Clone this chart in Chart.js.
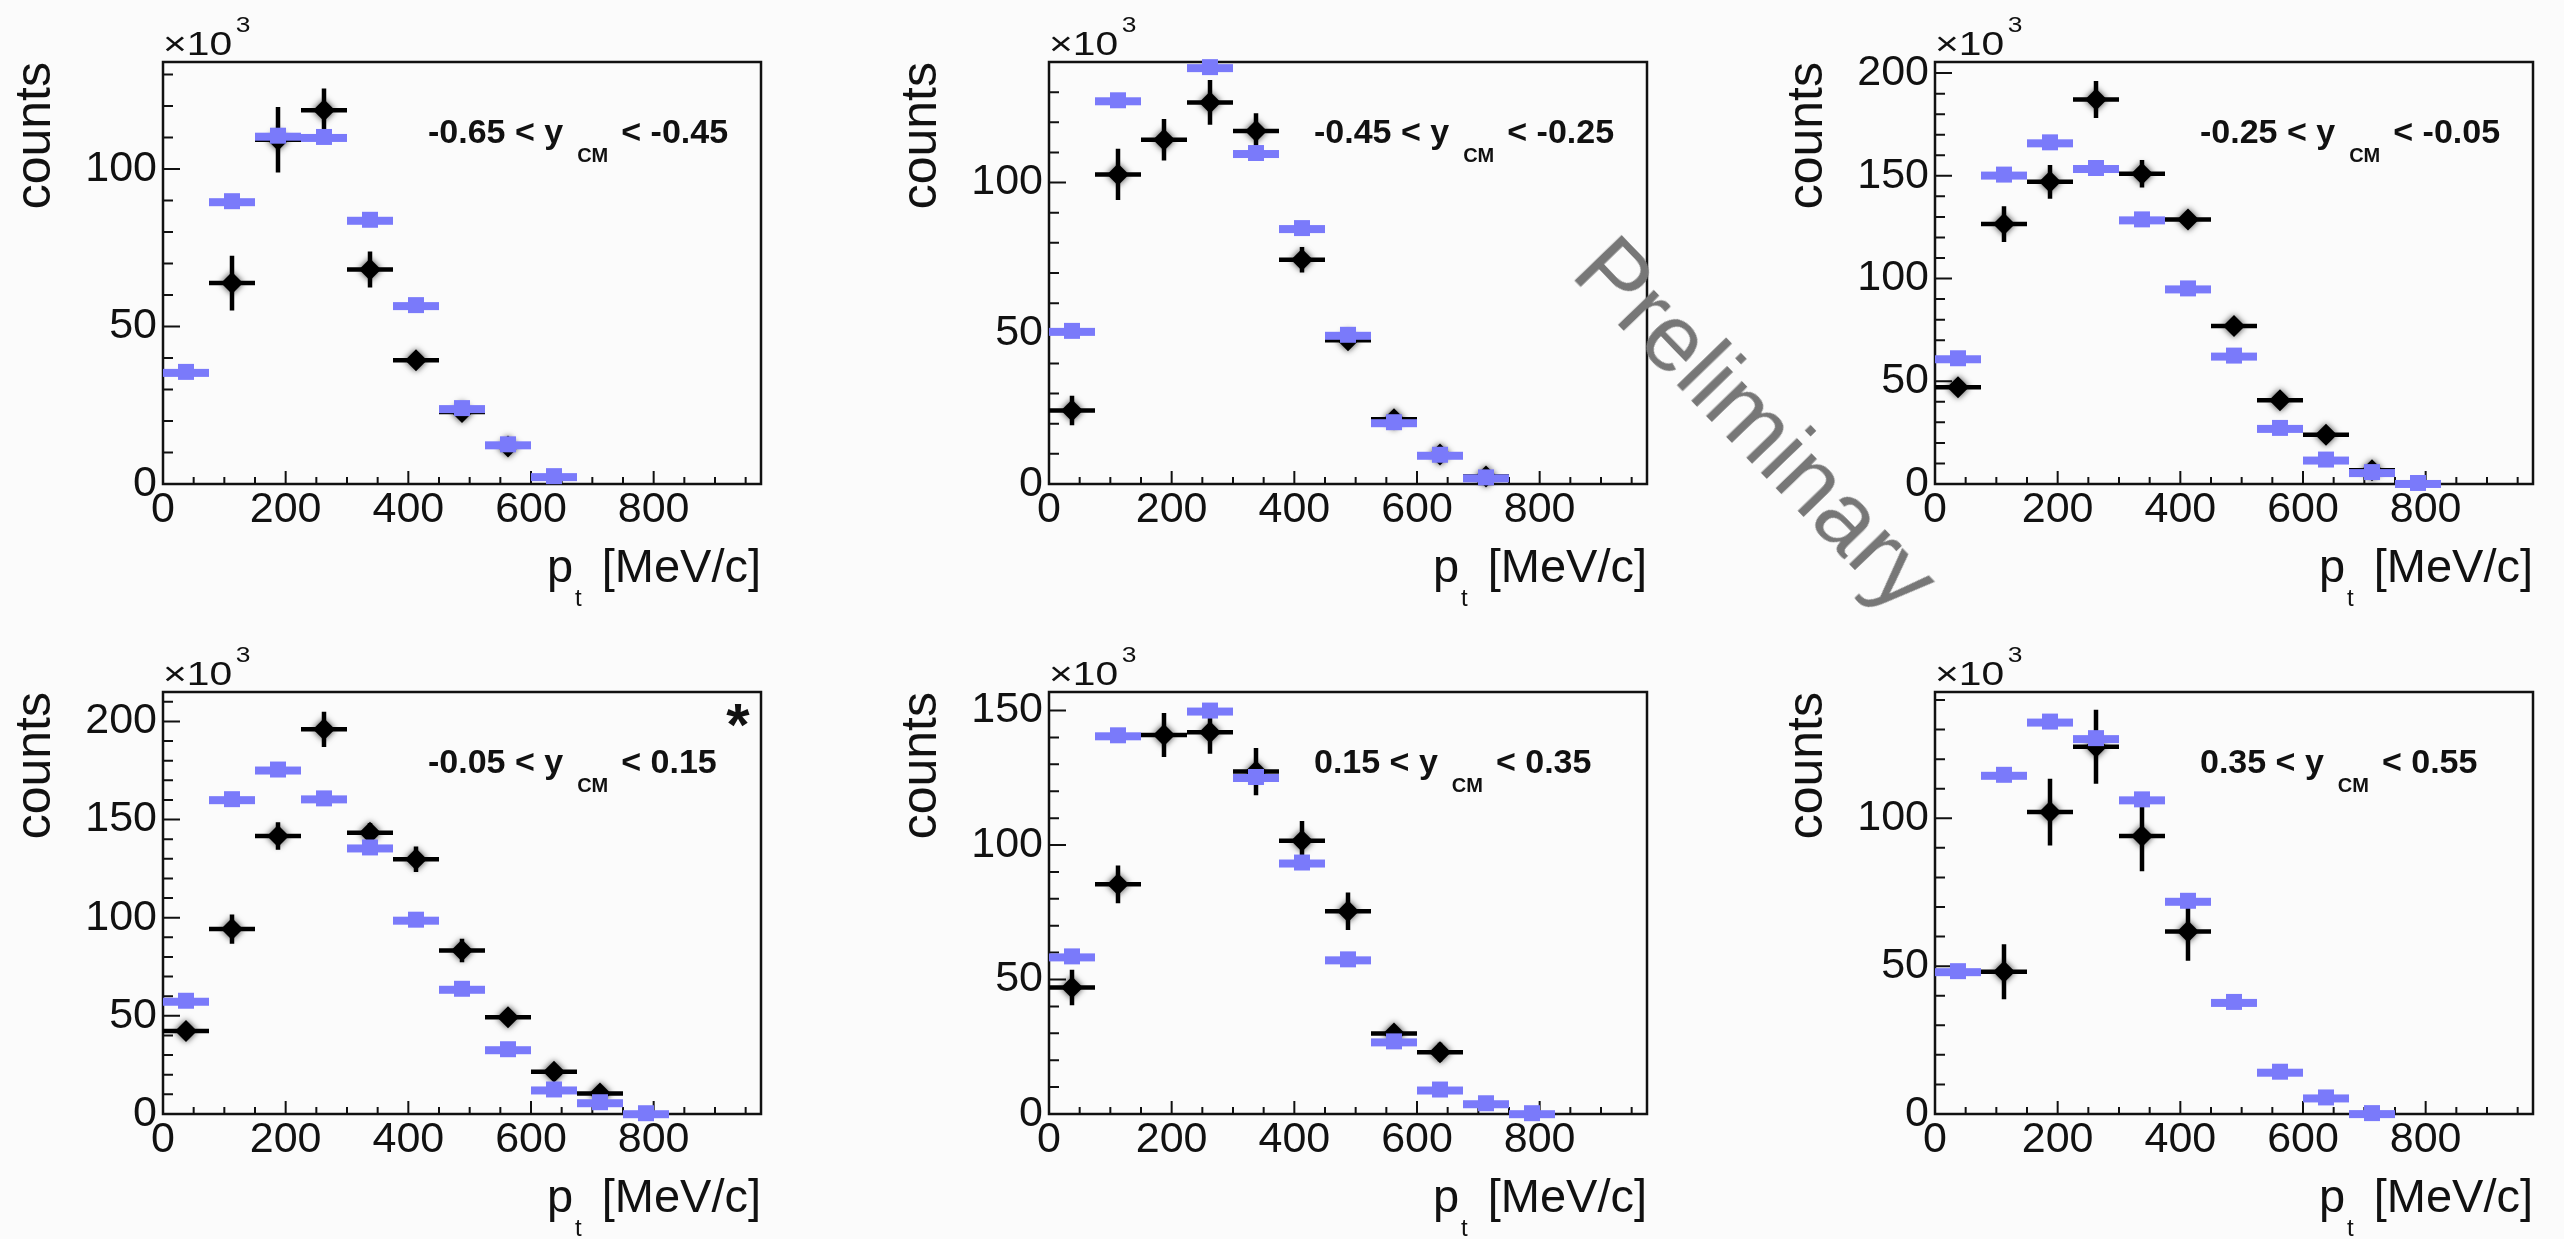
<!DOCTYPE html>
<html>
<head>
<meta charset="utf-8">
<script src="https://cdn.jsdelivr.net/npm/chart.js@4.4.1/dist/chart.umd.min.js"></script>
<style>
  html, body { margin: 0; padding: 0; background: #fbfbfb; overflow: hidden; }
  body { width: 2564px; height: 1239px; position: relative; }
  canvas { position: absolute; }
  #prelim {
    position: absolute; left: 1627px; top: 219px;
    font: 95px "Liberation Sans", Arial, sans-serif; line-height: 1;
    color: #777; white-space: nowrap;
    transform-origin: 0 0; transform: rotate(46deg);
  }
</style>
</head>
<body>
<canvas id="pad0" width="792" height="620" style="left:0px;top:0px"></canvas>
<canvas id="pad1" width="792" height="620" style="left:886px;top:0px"></canvas>
<canvas id="pad2" width="792" height="620" style="left:1772px;top:0px"></canvas>
<canvas id="pad3" width="792" height="609" style="left:0px;top:630px"></canvas>
<canvas id="pad4" width="792" height="609" style="left:886px;top:630px"></canvas>
<canvas id="pad5" width="792" height="609" style="left:1772px;top:630px"></canvas>
<div id="prelim">Preliminary</div>
<script>
// p_t bins (MeV/c), 75 MeV/c wide
const ptBinCentres = [37.5, 112.5, 187.5, 262.5, 337.5, 412.5, 487.5, 562.5, 637.5, 712.5, 787.5];
const ptBinHalfWidth = 37.5;
const ptRange = [0, 975];
const xTickLabels = [0, 200, 400, 600, 800];

// rapidity windows
const rapLow  = ["-0.65", "-0.45", "-0.25", "-0.05", "0.15", "0.35"];
const rapHigh = ["-0.45", "-0.25", "-0.05", "0.15", "0.35", "0.55"];

// y axis ranges (x10^3 counts)
const yMaxes = [134, 140, 205.4, 215, 156.9, 142.7];
const yTickLabels = [
  [0, 50, 100], [0, 50, 100], [0, 50, 100, 150, 200],
  [0, 50, 100, 150, 200], [0, 50, 100, 150], [0, 50, 100]
];

// measured counts (x10^3) and errors
const data0 = [null, 63.8, 109.3, 118.7, 68.1, 39.3, 22.9, 11.9, null, null, null];
const err0  = [0, 8.7, 10.4, 6.9, 5.7, 2, 1.5, 1, 0, 0, 0];
const data1 = [24.4, 102.7, 114.2, 126.6, 117.1, 74.4, 47.7, 21.5, 9.8, 2.5, null];
const err1  = [4.9, 8.5, 6.9, 7.4, 5.9, 4.2, 2, 1.5, 1, 0.5, 0];
const data2 = [47.1, 126.5, 147.1, 187.1, 151, 128.8, 76.9, 40.8, 24, 6.7, null];
const err2  = [3, 8.7, 8.2, 9, 6.7, 4, 3, 2, 1.5, 1, 0];
const data3 = [42.3, 94.2, 141.6, 196, 143.3, 129.8, 83.3, 49.3, 21.5, 10.5, null];
const err3  = [3, 7.5, 7, 9, 5, 6.5, 6, 3, 3, 2, 0];
const data4 = [47, 85.4, 140.9, 141.9, 127.3, 101.6, 75.4, 29.9, 23, null, null];
const err4  = [6.6, 7, 8.2, 8, 8.8, 7.3, 7, 2, 3.5, 0, 0];
const data5 = [null, 48.1, 102.1, 124.2, 94, 61.7, null, null, null, null, null];
const err5  = [0, 9.3, 11.3, 12.5, 11.9, 9.9, 0, 0, 0, 0, 0];

// model (x10^3), null where it runs off the top of the frame
const model0 = [35.6, 89.8, 110.6, 110.2, 83.9, 56.8, 24.1, 12.6, 2.5, null, null];
const model1 = [50.8, 127.3, null, 138.3, 109.8, 84.9, 49.5, 20.5, 9.7, 2.2, null];
const model2 = [61.2, 150.6, 166.3, 153.8, 128.8, 95.2, 62.5, 27.3, 11.9, 5.8, 0.5];
const model3 = [57.7, 160.4, 175.5, 160.8, 135.8, 99, 63.8, 33, 12.5, 6, 0.4];
const model4 = [58.6, 140.8, null, 150, 125.3, 93.5, 57.5, 27, 9.1, 4, 0.3];
const model5 = [48.3, 114.7, 132.7, 127.1, 106.4, 72.1, 37.9, 14.3, 5.6, 0.3, null];

const allData = [data0, data1, data2, data3, data4, data5];
const allErr = [err0, err1, err2, err3, err4, err5];
const allModel = [model0, model1, model2, model3, model4, model5];

const modelColour = "#7a7afa";
const FONT = '"Liberation Sans", Arial, Helvetica, sans-serif';
Chart.defaults.font.family = FONT;
Chart.defaults.color = "#111";

function toPoints(vals, errs) {
  const pts = [];
  vals.forEach((v, i) => {
    if (v === null) return;
    pts.push({ x: ptBinCentres[i], y: v, e: errs ? errs[i] : 0 });
  });
  return pts;
}

// ROOT-ish frame, inner ticks, bin bars, error bars and the pad texts
const rootStyle = {
  id: "rootStyle",
  beforeDatasetsDraw(chart) {
    const { ctx, chartArea: a, scales: { x, y } } = chart;
    ctx.save();
    ctx.strokeStyle = "#111";
    ctx.lineWidth = 2;
    ctx.beginPath();
    for (let v = 0; v <= ptRange[1]; v += 50) {
      const px = x.getPixelForValue(v);
      const len = v % 200 === 0 ? 13 : 7;
      ctx.moveTo(px, a.bottom);
      ctx.lineTo(px, a.bottom - len);
    }
    for (let v = 0; v <= y.max; v += 10) {
      const py = y.getPixelForValue(v);
      const len = v % 50 === 0 ? 17 : 10;
      ctx.moveTo(a.left, py);
      ctx.lineTo(a.left + len, py);
    }
    ctx.stroke();
    ctx.lineWidth = 2.5;
    ctx.strokeRect(a.left, a.top, a.right - a.left, a.bottom - a.top);
    ctx.restore();
  },
  beforeDatasetDraw(chart, args) {
    const ds = chart.data.datasets[args.index];
    const { ctx, scales: { x, y } } = chart;
    ctx.save();
    ds.data.forEach(p => {
      const x0 = x.getPixelForValue(p.x - ptBinHalfWidth);
      const x1 = x.getPixelForValue(p.x + ptBinHalfWidth);
      const px = x.getPixelForValue(p.x);
      const py = y.getPixelForValue(p.y);
      if (ds.kind === "model") {
        ctx.fillStyle = modelColour;
        ctx.fillRect(x0, py - 3, x1 - x0, 8);
      } else {
        ctx.strokeStyle = "#000";
        ctx.lineWidth = 4.5;
        ctx.beginPath();
        ctx.moveTo(x0, py);
        ctx.lineTo(x1, py);
        ctx.moveTo(px, y.getPixelForValue(p.y - p.e));
        ctx.lineTo(px, y.getPixelForValue(p.y + p.e));
        ctx.stroke();
      }
    });
    if (ds.kind === "data") {
      ctx.shadowColor = "rgba(0,0,0,0.75)";
      ctx.shadowBlur = 6;
    }
  },
  afterDatasetDraw(chart) {
    chart.ctx.restore();
  },
  afterDraw(chart, args, opts) {
    const { ctx, chartArea: a } = chart;
    const i = opts.panel;
    ctx.save();
    ctx.fillStyle = "#111";

    // x10^3
    ctx.textAlign = "left";
    ctx.textBaseline = "alphabetic";
    ctx.save();
    ctx.translate(a.left, a.top - 7);
    ctx.scale(1.2, 1);
    ctx.font = "34px " + FONT;
    ctx.fillText("\u00d710", 0, 0);
    const w10 = ctx.measureText("\u00d710").width;
    ctx.font = "22px " + FONT;
    ctx.fillText("3", w10 + 3, -23);
    ctx.restore();

    // counts
    ctx.save();
    ctx.translate(a.left - 113, a.top);
    ctx.rotate(-Math.PI / 2);
    ctx.textAlign = "right";
    ctx.font = "50px " + FONT;
    ctx.fillText("counts", 0, 0);
    ctx.restore();

    // p_t [MeV/c]
    const base = a.bottom + 98;
    ctx.font = "47px " + FONT;
    const unit = "[MeV/c]";
    const uStart = a.right - ctx.measureText(unit).width;
    ctx.fillText(unit, uStart, base);
    ctx.font = "24px " + FONT;
    const tW = ctx.measureText("t").width;
    const tStart = uStart - 20 - tW;
    ctx.fillText("t", tStart, base + 24);
    ctx.font = "47px " + FONT;
    ctx.fillText("p", tStart - 2 - ctx.measureText("p").width, base);

    // rapidity window
    let lx = a.left + 265;
    const ly = a.top + 81;
    ctx.font = "bold 34px " + FONT;
    const t1 = rapLow[i] + " < y";
    ctx.fillText(t1, lx, ly);
    lx += ctx.measureText(t1).width + 14;
    ctx.font = "bold 20px " + FONT;
    ctx.fillText("CM", lx, ly + 19);
    lx += ctx.measureText("CM").width + 13;
    ctx.font = "bold 34px " + FONT;
    ctx.fillText("< " + rapHigh[i], lx, ly);

    if (i === 3) {
      ctx.textAlign = "center";
      ctx.font = "bold 60px " + FONT;
      ctx.fillText("*", a.right - 23, a.top + 53);
    }
    ctx.restore();
  }
};

for (let i = 0; i < 6; i++) {
  const canvas = document.getElementById("pad" + i);
  const bottomPad = canvas.height - 60 - 484;
  new Chart(canvas.getContext("2d"), {
    type: "scatter",
    data: {
      datasets: [
        {
          kind: "model",
          data: toPoints(allModel[i], null),
          pointStyle: "rect",
          pointRadius: 11.3,
          pointBackgroundColor: modelColour,
          pointBorderWidth: 0,
          clip: false
        },
        {
          kind: "data",
          data: toPoints(allData[i], allErr[i]),
          pointStyle: "rectRot",
          pointRadius: 11,
          pointBackgroundColor: "#000",
          pointBorderWidth: 0,
          clip: false
        }
      ]
    },
    options: {
      responsive: false,
      animation: false,
      events: [],
      layout: { padding: { left: 0, top: 62, right: 31, bottom: bottomPad } },
      plugins: {
        legend: { display: false },
        tooltip: { enabled: false },
        rootStyle: { panel: i }
      },
      scales: {
        x: {
          type: "linear",
          min: ptRange[0],
          max: ptRange[1],
          grid: { display: false, drawTicks: false },
          border: { display: false },
          afterBuildTicks: s => { s.ticks = xTickLabels.map(v => ({ value: v })); },
          afterFit: s => { s.height = 60; },
          ticks: { padding: 0, font: { size: 43 }, color: "#111", maxRotation: 0 }
        },
        y: {
          type: "linear",
          min: 0,
          max: yMaxes[i],
          grid: { display: false, drawTicks: false },
          border: { display: false },
          afterBuildTicks: s => { s.ticks = yTickLabels[i].map(v => ({ value: v })); },
          afterFit: s => { s.width = 163; },
          ticks: { padding: 6, font: { size: 43 }, color: "#111" }
        }
      }
    },
    plugins: [rootStyle]
  });
}
</script>
</body>
</html>
